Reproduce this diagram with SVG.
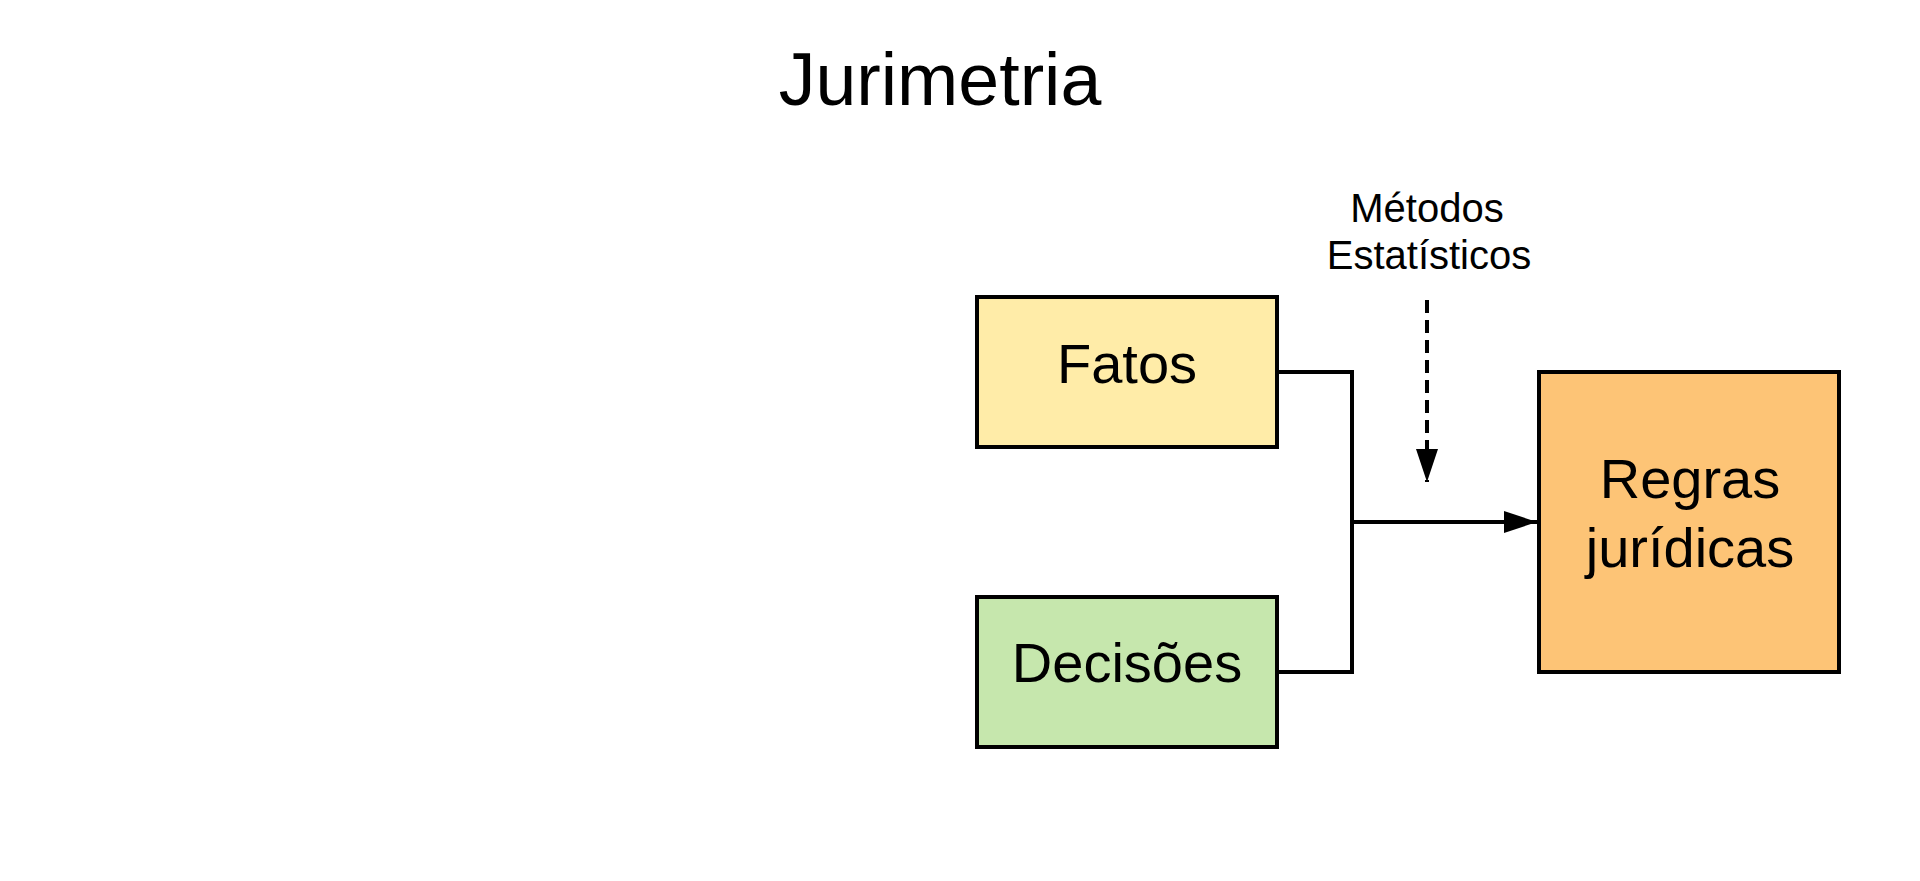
<svg xmlns="http://www.w3.org/2000/svg" width="1920" height="881" viewBox="0 0 1920 881">
<style>
.box{stroke:#000;stroke-width:4}
.lbl{font-family:"Liberation Sans",Arial,sans-serif;fill:#000;text-anchor:middle}
.conn{fill:none;stroke:#000;stroke-width:4}
</style>
<defs>
<marker id="arr" markerUnits="userSpaceOnUse" markerWidth="34" markerHeight="24" refX="33" refY="11" orient="auto" viewBox="0 0 34 24">
<path d="M0,0 L33,11 L0,22 Z" fill="#000"/>
</marker>
</defs>
<rect width="1920" height="881" fill="#fff"/>
<text class="lbl" x="940" y="105" font-size="73.5">Jurimetria</text>
<g id="metodos">
<text class="lbl" x="1427" y="222" font-size="40">Métodos</text>
<text class="lbl" x="1429" y="269" font-size="40">Estatísticos</text>
</g>
<g id="fatos">
<rect class="box" x="977" y="297" width="300" height="150" fill="#FFECA8"/>
<text class="lbl" x="1127" y="383" font-size="56">Fatos</text>
</g>
<g id="decisoes">
<rect class="box" x="977" y="597" width="300" height="150" fill="#C6E7AD"/>
<text class="lbl" x="1127" y="682" font-size="56">Decisões</text>
</g>
<g id="regras">
<rect class="box" x="1539" y="372" width="300" height="300" fill="#FDC476"/>
<text class="lbl" x="1690" y="498" font-size="56">Regras</text>
<text class="lbl" x="1690" y="567" font-size="56">jurídicas</text>
</g>
<g id="connectors">
<path class="conn" d="M1277,372 H1352 V672 H1277"/>
<path class="conn" d="M1352,522 H1537" marker-end="url(#arr)"/>
<path class="conn" d="M1427,300 V482" stroke-dasharray="13 7" marker-end="url(#arr)"/>
</g>
</svg>
